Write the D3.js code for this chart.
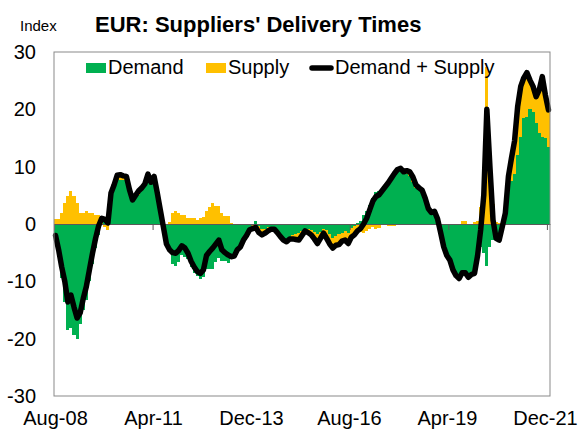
<!DOCTYPE html>
<html><head><meta charset="utf-8">
<script src="https://cdn.jsdelivr.net/npm/d3@7"></script>
<style>body{margin:0;background:#fff} svg{display:block;font-family:"Liberation Sans",Arial,sans-serif}</style>
</head><body><svg id="c" width="581" height="429"></svg>
<script>
const tickLabels=["Aug-08","Apr-11","Dec-13","Aug-16","Apr-19","Dec-21"];
const tickEvery=32;
const yTicks=[-30,-20,-10,0,10,20,30];
const seriesNames=["Demand","Supply","Demand + Supply"];
const demand=[
-2.8,-5.3,-9.4,-13.6,-18.5,-18.2,-19.3,-20.0,-17.5,-15.0,
-13.2,-9.9,-7.0,-4.1,-1.9,0.0,1.3,1.2,5.1,6.3,
7.9,7.6,7.6,8.1,5.8,3.9,4.6,5.0,6.0,6.7,
8.4,7.1,8.1,5.3,2.4,-0.5,-3.5,-4.8,-7.0,-7.3,
-6.6,-5.4,-5.7,-6.1,-7.5,-8.5,-9.0,-9.6,-9.3,-7.8,
-7.8,-7.8,-6.7,-6.0,-6.5,-6.4,-6.8,-5.9,-5.6,-4.5,
-4.0,-2.8,-2.0,-0.8,-0.2,0.5,-0.3,-0.9,-0.8,-0.6,
-0.6,-0.7,-1.5,-2.2,-2.8,-3.1,-2.4,-2.0,-1.7,-1.6,
-1.2,-0.9,-0.9,-1.0,-1.4,-1.8,-1.4,-0.8,-1.1,-1.8,
-2.4,-2.1,-1.8,-1.5,-1.2,-1.5,-0.7,-0.4,0.1,0.6,
1.5,2.2,3.3,4.6,5.6,5.8,6.0,6.5,7.5,8.4,
9.1,9.5,9.6,8.8,8.7,8.3,7.4,6.2,6.1,5.9,
4.5,2.4,1.5,1.8,0.7,-1.5,-4.0,-5.3,-6.0,-7.7,
-8.8,-9.5,-9.0,-9.1,-9.3,-8.8,-8.9,-6.0,-4.0,-5.0,
-7.4,-4.0,-2.8,-2.8,-3.0,-1.0,1.5,5.9,7.5,8.8,
12.0,15.2,18.5,18.7,20.1,19.5,17.6,15.8,15.2,15.0,
13.5];
const supply=[
0.8,0.8,1.9,3.6,4.9,5.8,4.8,3.6,2.0,2.0,
2.3,1.9,1.9,1.6,1.6,1.0,-0.5,-1.0,0.3,0.5,
0.6,1.0,0.8,0.2,0.2,0.3,0.4,0.8,0.3,0.3,
0.3,0.2,0.2,0.2,0.1,0.0,0.0,0.3,2.0,2.2,
2.0,1.6,1.5,1.0,1.0,1.0,0.7,1.0,1.3,2.3,
3.0,3.6,3.2,3.2,2.0,1.4,1.4,0.2,0.0,0.0,
0.0,0.0,0.0,-0.2,-0.6,-1.1,-1.2,-1.0,-0.8,-0.6,
-0.3,-0.2,0.0,0.0,0.0,0.0,-0.2,-0.6,-1.0,-1.2,
-0.8,-0.3,-0.6,-0.9,-1.2,-1.6,-1.1,-0.8,-1.4,-1.7,
-1.8,-1.6,-1.8,-1.5,-1.6,-1.9,-1.6,-1.5,-1.3,-1.4,
-1.5,-1.2,-0.8,-0.6,-0.8,-0.7,-0.2,0.0,-0.3,-0.4,
-0.3,0.0,0.1,0.3,0.6,0.8,0.8,0.6,0.2,0.0,
0.0,0.3,0.5,0.4,0.2,0.0,0.0,-0.2,-0.3,-0.3,
-0.2,0.0,0.5,0.6,0.0,0.0,0.3,0.5,3.0,10.0,
27.4,14.0,3.5,0.3,0.2,0.5,0.4,2.4,4.0,5.7,
8.5,8.8,7.0,7.7,5.0,4.5,4.6,7.6,10.5,7.5,
6.4];

const fmt=d3.timeFormat("%b-%y");
const months=demand.map((d,i)=>fmt(new Date(2008,7+i,1)));
const rows=months.map((m,i)=>({month:m,demand:demand[i],supply:supply[i],total:demand[i]+supply[i]}));

const L=54,R=550,T=52,B=396;
const svg=d3.select("#c");
const x=d3.scaleBand().domain(months).range([L,R]).padding(0);
const xi=d3.scaleLinear().domain([0,months.length]).range([L,R]);
const y=d3.scaleLinear().domain([-30,30]).range([B,T]);
const colors={demand:"#00B050",supply:"#FFC000"};

// bars
const stack=d3.stack().keys(["demand","supply"]).offset(d3.stackOffsetDiverging)(rows);
const bx0=d=>Math.round(x(d.data.month)), bx1=d=>Math.round(x(d.data.month)+x.bandwidth());
svg.append("g").attr("shape-rendering","crispEdges").selectAll("g").data(stack).join("g").attr("fill",s=>colors[s.key])
  .selectAll("rect").data(s=>s).join("rect")
  .attr("x",bx0).attr("width",d=>bx1(d)-bx0(d))
  .attr("y",d=>y(Math.max(d[0],d[1]))).attr("height",d=>Math.abs(y(d[0])-y(d[1])));

// zero axis with ticks
const tickIdx=tickLabels.map((t,k)=>k*tickEvery);
svg.append("g").attr("transform",`translate(0,${y(0)})`)
  .call(d3.axisBottom(xi).tickValues(tickIdx).tickFormat("").tickSizeInner(6).tickSizeOuter(0))
  .call(g=>{g.select(".domain").attr("stroke","#595959");g.selectAll(".tick line").attr("stroke","#595959");});

// line
svg.append("path").datum(rows).attr("fill","none").attr("stroke","#000").attr("stroke-width",5.5)
  .attr("stroke-linejoin","round").attr("stroke-linecap","round")
  .attr("d",d3.line().x(d=>x(d.month)+x.bandwidth()/2).y(d=>y(d.total)));

// border
svg.append("rect").attr("x",L).attr("y",T).attr("width",R-L).attr("height",B-T)
  .attr("fill","none").attr("stroke","#898989").attr("stroke-width",1);

// y labels
svg.append("g").attr("transform",`translate(${L},0)`)
  .call(d3.axisLeft(y).tickValues(yTicks).tickFormat(d=>String(d)).tickSize(0).tickPadding(18))
  .call(g=>{g.select(".domain").remove();g.selectAll("text").attr("font-size",20).attr("font-family","Liberation Sans, Arial").attr("fill","#000");});

// x labels
const xl=d3.scalePoint().domain(tickLabels).range([x(months[0])+x.bandwidth()/2,x(months[160])+x.bandwidth()/2-3]);
svg.append("g").selectAll("text").data(tickLabels).join("text")
  .attr("x",d=>xl(d)).attr("y",425).attr("text-anchor","middle").attr("font-size",20).text(d=>d);

// title
svg.append("text").attr("x",95).attr("y",32).attr("font-size",22).attr("font-weight","bold").text("EUR: Suppliers' Delivery Times");
svg.append("text").attr("x",20).attr("y",31).attr("font-size",15).text("Index");

// legend
const lg=svg.append("g");
lg.append("rect").attr("x",86).attr("y",63).attr("width",20).attr("height",10).attr("fill",colors.demand);
lg.append("text").attr("x",108).attr("y",74).attr("font-size",20).text(seriesNames[0]);
lg.append("rect").attr("x",206).attr("y",63).attr("width",20).attr("height",10).attr("fill",colors.supply);
lg.append("text").attr("x",228).attr("y",74).attr("font-size",20).text(seriesNames[1]);
lg.append("line").attr("x1",312).attr("x2",331).attr("y1",68).attr("y2",68).attr("stroke","#000").attr("stroke-width",5.5).attr("stroke-linecap","round");
lg.append("text").attr("x",335).attr("y",74).attr("font-size",20).text(seriesNames[2]);
</script></body></html>
